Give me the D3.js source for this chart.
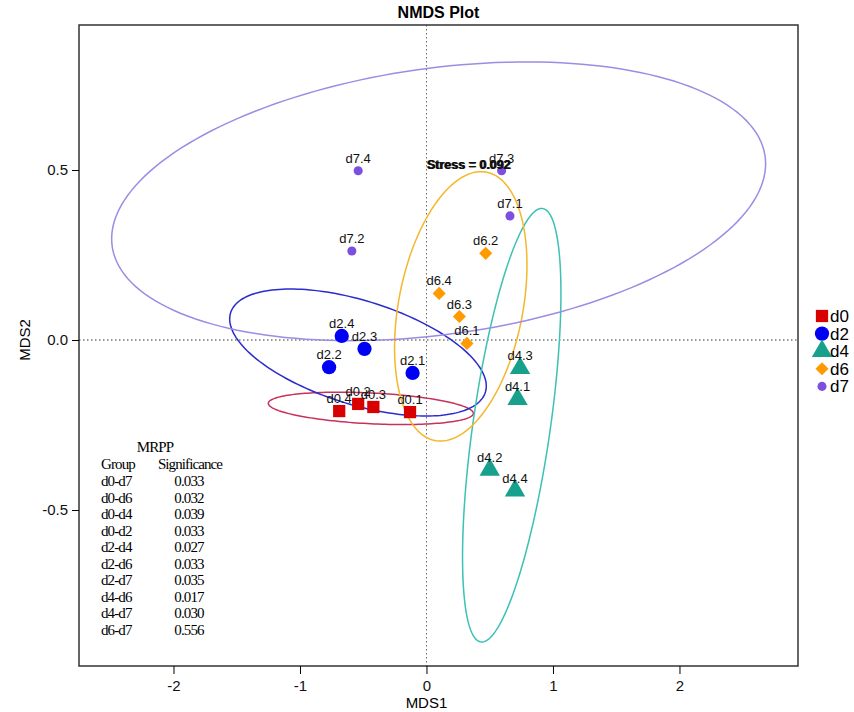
<!DOCTYPE html>
<html>
<head>
<meta charset="utf-8">
<script src="https://cdn.jsdelivr.net/npm/d3@7/dist/d3.min.js"></script>
<style>
  body { margin: 0; background: #fff; }
  svg { font-family: "Liberation Sans", Arial, sans-serif; }
  .tick text { font-size: 15px; fill: #111; }
  .lbl { font-size: 13px; fill: #111; }
  .tbl { font-family: "Liberation Serif", "Times New Roman", serif; font-size: 15px; fill: #000; letter-spacing: -0.9px; }
</style>
</head>
<body>
<script>
// groups and their colours
const groups = ["d0", "d2", "d4", "d6", "d7"];
const pointColors = ["#d90000", "#0000f5", "#17a08b", "#ff9a00", "#7b4fe0"];
const ellipseColors = ["#c8325a", "#2b2bcf", "#3cc1b5", "#f4b72e", "#9c8ce3"];

// NMDS scores (MDS1, MDS2) per sample
const samples = ["d0.1", "d0.2", "d0.3", "d0.4",
                 "d2.1", "d2.2", "d2.3", "d2.4",
                 "d4.1", "d4.2", "d4.3", "d4.4",
                 "d6.1", "d6.2", "d6.3", "d6.4",
                 "d7.1", "d7.2", "d7.3", "d7.4"];
const mds1 = [-0.13, -0.54, -0.42, -0.69,
              -0.11, -0.77, -0.49, -0.67,
               0.72,  0.50,  0.74,  0.70,
               0.32,  0.468, 0.26,  0.10,
               0.66, -0.59,  0.594, -0.54];
const mds2 = [-0.212, -0.188, -0.197, -0.209,
              -0.097, -0.080, -0.026,  0.012,
              -0.174, -0.382, -0.083, -0.443,
              -0.010,  0.255,  0.069,  0.137,
               0.365,  0.262,  0.498,  0.498];

// ellipse per group: centre and covariance (sxx, sxy, syy) in MDS units
const ellCx  = [-0.44, -0.5415, 0.674, 0.271, 0.096];
const ellCy  = [-0.201, -0.0368, -0.2506, 0.099, 0.408];
const ellSxx = [0.6566, 1.0287, 0.1513, 0.2739, 6.682];
const ellSxy = [-0.0119, -0.1000, 0.1507, 0.0636, 0.2851];
const ellSyy = [0.002267, 0.03488, 0.4066, 0.157, 0.168];

// MRPP table
const mrppPairs = ["d0-d7", "d0-d6", "d0-d4", "d0-d2", "d2-d4", "d2-d6", "d2-d7", "d4-d6", "d4-d7", "d6-d7"];
const mrppSig = ["0.033", "0.032", "0.039", "0.033", "0.027", "0.033", "0.035", "0.017", "0.030", "0.556"];

const stress = "0.092";
const xTicks = [-2, -1, 0, 1, 2];
const yTicks = [-0.5, 0.0, 0.5];

const w = 854, h = 712;
const pLeft = 79, pRight = 798, pTop = 25, pBottom = 666;

const x = d3.scaleLinear().domain([-2.747, 2.937]).range([pLeft, pRight]);
const y = d3.scaleLinear().domain([-0.9588, 0.9265]).range([pBottom, pTop]);

const svg = d3.select("body").append("svg").attr("width", w).attr("height", h);

// title
svg.append("text").text("NMDS Plot")
  .attr("x", (pLeft + pRight) / 2).attr("y", 18)
  .attr("text-anchor", "middle").attr("font-weight", "bold").attr("font-size", 16);

// zero lines
svg.append("line")
  .attr("x1", x(0)).attr("x2", x(0)).attr("y1", pTop).attr("y2", pBottom)
  .attr("stroke", "#666").attr("stroke-dasharray", "1.5,2.5");
svg.append("line")
  .attr("x1", pLeft).attr("x2", pRight).attr("y1", y(0)).attr("y2", y(0))
  .attr("stroke", "#333").attr("stroke-dasharray", "1.5,2.5");

// ellipses
const ellLine = d3.line().x(d => x(d[0])).y(d => y(d[1])).curve(d3.curveLinearClosed);
groups.forEach((g, i) => {
  const l11 = Math.sqrt(ellSxx[i]);
  const l21 = ellSxy[i] / l11;
  const l22 = Math.sqrt(ellSyy[i] - l21 * l21);
  const pts = d3.range(0, 2 * Math.PI, Math.PI / 90).map(t => [
    ellCx[i] + l11 * Math.cos(t),
    ellCy[i] + l21 * Math.cos(t) + l22 * Math.sin(t)
  ]);
  svg.append("path").attr("d", ellLine(pts))
    .attr("fill", "none").attr("stroke", ellipseColors[i]).attr("stroke-width", 1.5);
});

// symbols
const shapes = [d3.symbolSquare, d3.symbolCircle, d3.symbolTriangle, d3.symbolDiamond2, d3.symbolCircle];
const sizes = [150, 160, 180, 110, 65];

const pts = samples.map((s, i) => ({ name: s, x: mds1[i], y: mds2[i], g: groups.indexOf(s.split(".")[0]) }));

svg.selectAll(".pt")
  .data(pts)
  .enter()
  .append("path")
  .attr("class", "pt")
  .attr("d", d => d3.symbol().type(shapes[d.g]).size(sizes[d.g])())
  .attr("transform", d => "translate(" + x(d.x) + "," + y(d.y) + ")")
  .attr("fill", d => pointColors[d.g]);

svg.selectAll(".lbl")
  .data(pts)
  .enter()
  .append("text")
  .attr("class", "lbl")
  .attr("x", d => x(d.x))
  .attr("y", d => y(d.y) - 8)
  .attr("text-anchor", "middle")
  .text(d => d.name);

// stress (printed twice in the original, slightly shifted)
[0, 1].forEach(k => {
  svg.append("text").text("Stress = " + stress)
    .attr("x", x(0) + k).attr("y", y(0.5) - 1)
    .attr("font-weight", "bold").attr("font-size", 12.5).attr("fill", "#111");
});

// frame
svg.append("rect")
  .attr("x", pLeft).attr("y", pTop).attr("width", pRight - pLeft).attr("height", pBottom - pTop)
  .attr("fill", "none").attr("stroke", "#333").attr("stroke-width", 1.5);

// axes (plain hyphen for negatives, like the original)
const hyph = f => v => f(v).replace("\u2212", "-");
const xAxis = d3.axisBottom(x).tickValues(xTicks).tickSize(8).tickPadding(6).tickFormat(hyph(d3.format("d")));
svg.append("g").attr("transform", "translate(0," + pBottom + ")").call(xAxis)
  .call(g => g.select(".domain").remove());
const yAxis = d3.axisLeft(y).tickValues(yTicks).tickSize(7).tickPadding(4).tickFormat(hyph(d3.format(".1f")));
svg.append("g").attr("transform", "translate(" + pLeft + ",0)").call(yAxis)
  .call(g => g.select(".domain").remove());

svg.append("text").text("MDS1")
  .attr("x", x(0)).attr("y", 708).attr("text-anchor", "middle").attr("font-size", 15);
svg.append("text").text("MDS2")
  .attr("transform", "translate(30," + y(0) + ") rotate(-90)")
  .attr("text-anchor", "middle").attr("font-size", 15);

// legend
const legend = svg.append("g");
groups.forEach((g, i) => {
  const ly = 316 + i * 17.6;
  legend.append("path")
    .attr("d", d3.symbol().type(shapes[i]).size(sizes[i])())
    .attr("transform", "translate(822," + ly + ")")
    .attr("fill", pointColors[i]);
  legend.append("text").text(g)
    .attr("x", 830).attr("y", ly + 6).attr("font-size", 17);
});

// MRPP table
const tbl = svg.append("g");
tbl.append("text").attr("class", "tbl").text("MRPP").attr("x", 155).attr("y", 452).attr("text-anchor", "middle");
tbl.append("text").attr("class", "tbl").text("Group").attr("x", 101).attr("y", 469);
tbl.append("text").attr("class", "tbl").text("Significance").attr("x", 190).attr("y", 469).attr("text-anchor", "middle");
mrppPairs.forEach((p, i) => {
  const ty = 486 + i * 16.5;
  tbl.append("text").attr("class", "tbl").text(p).attr("x", 101).attr("y", ty);
  tbl.append("text").attr("class", "tbl").text(mrppSig[i]).attr("x", 189).attr("y", ty).attr("text-anchor", "middle");
});
</script>
</body>
</html>
